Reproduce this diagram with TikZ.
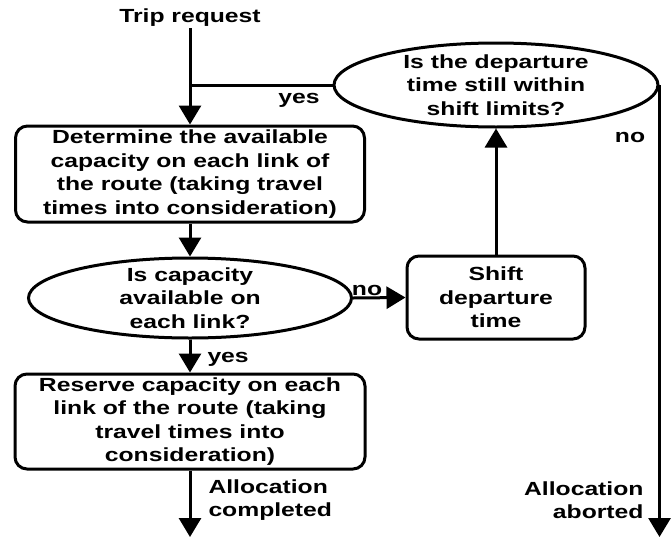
\documentclass[tikz,border=0pt]{standalone}
\usepackage{fontspec}
\newfontfamily\flowfont{Liberation Sans}[FakeStretch=1.3]
\usetikzlibrary{shapes.geometric, arrows.meta, positioning}

\tikzset{
  flowtext/.style={font=\flowfont\bfseries\fontsize{19}{23.5}\selectfont, align=center, inner sep=0pt},
  process/.style={draw, rounded corners=12pt, flowtext, inner sep=1pt},
  decision/.style={draw, ellipse, inner sep=0pt},
  lbl/.style={flowtext}
}

\begin{document}
\begin{tikzpicture}[x=1pt, y=-1pt, line width=3pt, >={Triangle[length=19pt,width=22pt]}]

    \useasboundingbox (0,0) rectangle (671,538);

    % --- Boxes and decisions ---
    \node[flowtext] (trip) at (190,18) {Trip request};
    \node[process, minimum width=349pt, minimum height=96pt] (determine) at (190,174)
        {Determine the available\\capacity on each link of\\the route (taking travel\\times into consideration)};
    \node[decision, minimum width=323pt, minimum height=80pt,
          label={[flowtext]center:{Is capacity\\available on\\each link?}}] (capacity) at (190,298) {};
    \node[process, minimum width=178pt, minimum height=83pt] (shift) at (496,297.5)
        {Shift\\departure\\time};
    \node[decision, minimum width=324pt, minimum height=84pt,
          label={[flowtext]center:{Is the departure\\time still within\\shift limits?}}] (within) at (496,85) {};
    \node[process, minimum width=350pt, minimum height=95pt] (reserve) at (190,421.5)
        {Reserve capacity on each\\link of the route (taking\\travel times into\\consideration)};

    % --- Main column ---
    \draw[->] (trip.south) -- (determine.north);
    \draw (within.west) -- (within.west -| determine.north);
    \node[lbl] (yestop) at (299,100) {yes};
    \draw[->] (determine.south) -- (capacity.north);
    \draw[->] (capacity.south) -- (reserve.north);
    \node[lbl, anchor=west] (yesmid) at (206,359) {yes};

    % --- Shift loop ---
    \draw[->] (capacity.east) -- (shift.west);
    \node[lbl, anchor=base] (nomid) at (367,295) {no};
    \draw[->] (shift.north) -- (within.south);

    % --- Exits ---
    \coordinate (completed) at (190,537);
    \draw[->] (reserve.south) -- (completed);
    \node[lbl, anchor=west, align=left] (donelbl) at (207,500) {Allocation\\completed};

    \coordinate (aborted) at (658,537);
    \draw[->] (within.east) -- (within.east |- aborted);
    \node[lbl] (notop) at (630,137) {no};
    \node[lbl, anchor=east, align=right] (abortlbl) at (645,500) {Allocation\\aborted};

\end{tikzpicture}
\end{document}
